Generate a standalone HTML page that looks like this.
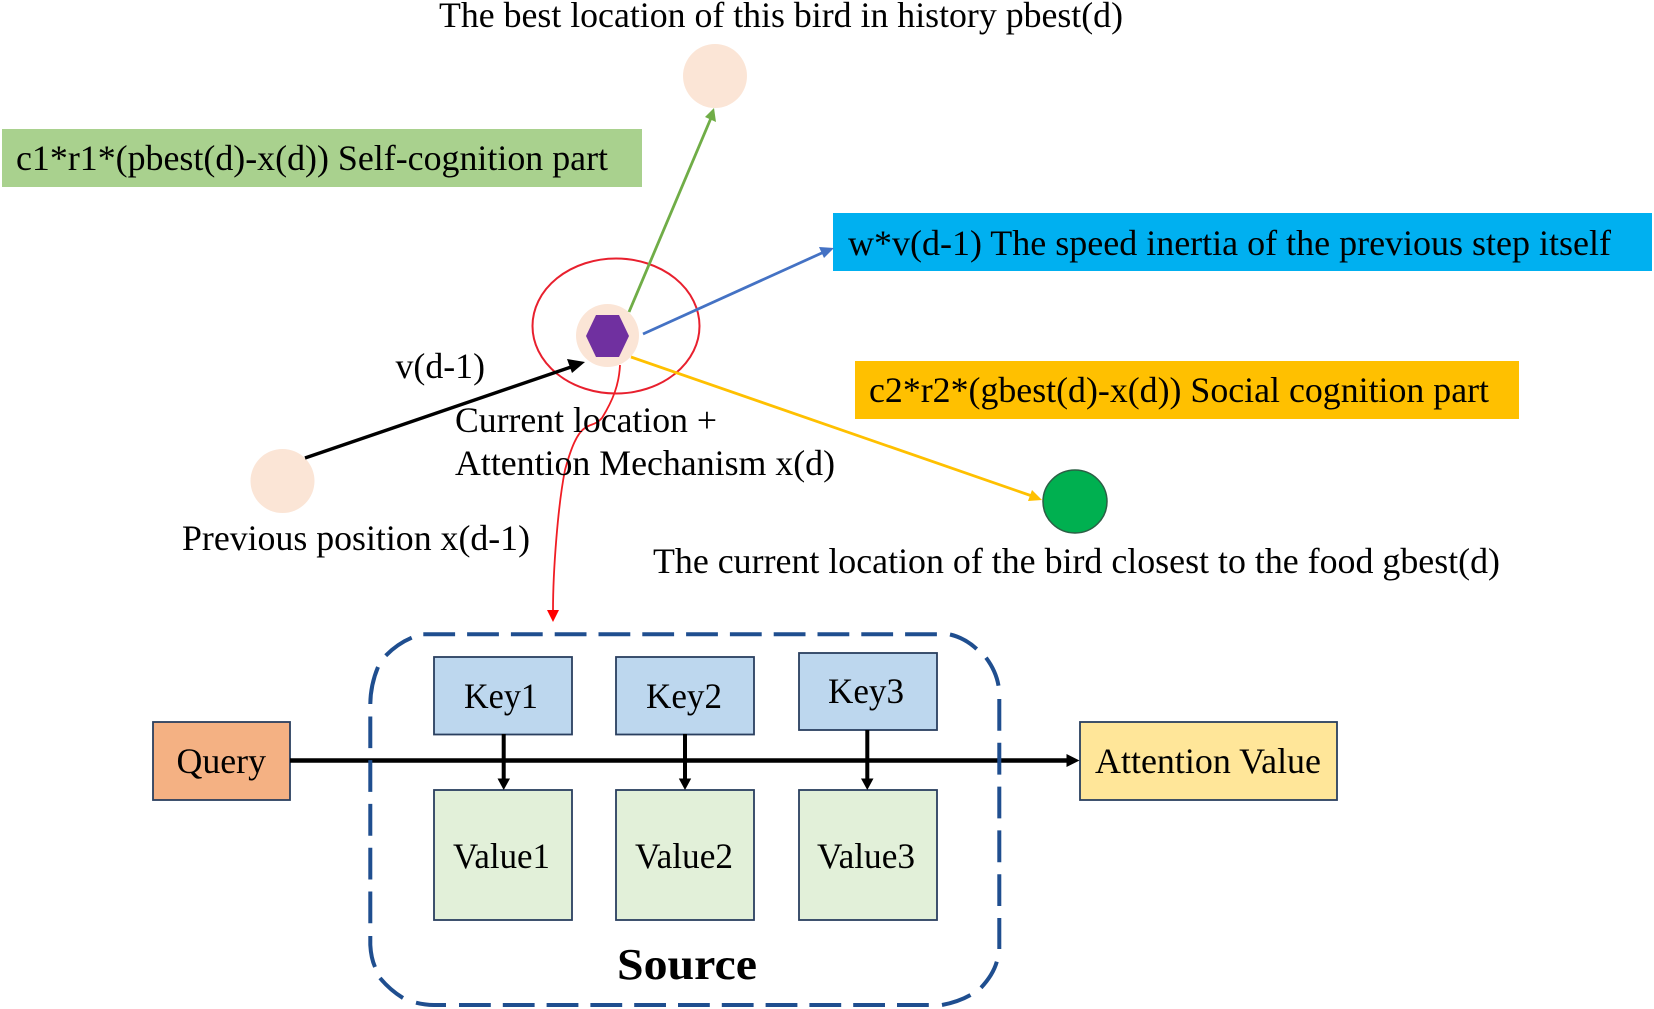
<!DOCTYPE html>
<html>
<head>
<meta charset="utf-8">
<style>
html,body{margin:0;padding:0;background:#fff;width:1654px;height:1009px;overflow:hidden}
svg{display:block;filter:blur(0.35px)}
text{font-family:"Liberation Serif",serif;font-size:36px;fill:#000}
</style>
</head>
<body>
<svg width="1654" height="1009" viewBox="0 0 1654 1009" xmlns="http://www.w3.org/2000/svg">
<rect width="1654" height="1009" fill="#fff"/>

<!-- colored bars -->
<rect x="2" y="129" width="640" height="58" fill="#a9d18e"/>
<rect x="833" y="213" width="819" height="58" fill="#00b0f0"/>
<rect x="855" y="361" width="664" height="58" fill="#ffc000"/>

<!-- nodes -->
<circle cx="715" cy="76" r="32" fill="#fbe5d6"/>
<circle cx="282.5" cy="481" r="32" fill="#fbe5d6"/>
<ellipse cx="1075" cy="501.5" rx="32" ry="31.5" fill="#00b050" stroke="#2c5f45" stroke-width="1.5"/>
<ellipse cx="616" cy="326" rx="83.5" ry="67.5" fill="none" stroke="#e8202e" stroke-width="2"/>
<circle cx="607.5" cy="335.5" r="31.5" fill="#fbe5d6"/>
<polygon points="586,336 596,315 619,315 629,336 619,357 596,357" fill="#7030a0"/>

<!-- upper connectors -->
<line x1="629" y1="312" x2="711" y2="118" stroke="#70ad47" stroke-width="2.8"/>
<polygon points="714,108 716,122 705,117" fill="#70ad47"/>
<line x1="643" y1="334" x2="824" y2="252" stroke="#4472c4" stroke-width="2.8"/>
<polygon points="834,248 824,258 819,247" fill="#4472c4"/>
<line x1="631" y1="357" x2="1032" y2="496" stroke="#ffc000" stroke-width="2.8"/>
<polygon points="1042,500 1028,501 1032,490" fill="#ffc000"/>
<line x1="305" y1="458" x2="574" y2="366" stroke="#000" stroke-width="3.4"/>
<polygon points="585,362 572,373 567,359" fill="#000"/>
<path d="M620 365 C619 385 613 400 602 418 C596 425 590 424 585 428 C577 433 571 448 565 470 C558 505 553 570 553 611" fill="none" stroke="#f01d24" stroke-width="1.8"/>
<polygon points="553,622 547,610 559,610" fill="#f00"/>

<!-- boxes -->
<g stroke="#2a3f5f" stroke-width="1.8">
<rect x="153" y="722" width="137" height="78" fill="#f4b183"/>
<rect x="434" y="657" width="138" height="77.5" fill="#bdd7ee"/>
<rect x="616" y="657" width="138" height="77.5" fill="#bdd7ee"/>
<rect x="799" y="653" width="138" height="77" fill="#bdd7ee"/>
<rect x="434" y="790" width="138" height="130" fill="#e2f0d9"/>
<rect x="616" y="790" width="138" height="130" fill="#e2f0d9"/>
<rect x="799" y="790" width="138" height="130" fill="#e2f0d9"/>
<rect x="1080" y="722" width="257" height="78" fill="#ffe699"/>
</g>

<!-- lower connectors -->
<line x1="290" y1="760.5" x2="1068" y2="760.5" stroke="#000" stroke-width="4.4"/>
<polygon points="1079.5,760.5 1066.5,754 1066.5,767" fill="#000"/>
<line x1="503.7" y1="734" x2="503.7" y2="780" stroke="#000" stroke-width="4"/>
<polygon points="503.7,790 497.5,778.5 510,778.5" fill="#000"/>
<line x1="685" y1="734" x2="685" y2="780" stroke="#000" stroke-width="4"/>
<polygon points="685,790 678.8,778.5 691.2,778.5" fill="#000"/>
<line x1="867.3" y1="730" x2="867.3" y2="780" stroke="#000" stroke-width="4"/>
<polygon points="867.3,790 861,778.5 873.5,778.5" fill="#000"/>

<!-- source container dashes -->
<g fill="none" stroke="#1f4e8f" stroke-width="4">
<path d="M423.3 634.3H939" stroke-dasharray="31.8 12"/>
<path d="M950 634.5Q965 638 976.7 649"/>
<path d="M986 657.7Q996 671 998.5 685.7"/>
<path d="M999.3 699V949" stroke-dasharray="31.8 12"/>
<path d="M996.8 961.7Q993 975 981 987.7"/>
<path d="M970.5 995Q958 1002 942 1005"/>
<path d="M459 1005H930" stroke-dasharray="31.8 12"/>
<path d="M416 1002.7Q425 1005 434 1005H446"/>
<path d="M403 998Q390 990 380 978"/>
<path d="M375 967Q371 958 370.3 945V936"/>
<path d="M370.3 923.3V716.5" stroke-dasharray="31.8 12"/>
<path d="M370.3 704Q370.5 685 378 667"/>
<path d="M385.7 655.7Q397 644 411.7 637.7"/>
</g>

<!-- labels -->
<g>
<text x="439" y="27" textLength="684" lengthAdjust="spacingAndGlyphs">The best location of this bird in history pbest(d)</text>
<text x="16" y="170" textLength="592" lengthAdjust="spacingAndGlyphs">c1*r1*(pbest(d)-x(d)) Self-cognition part</text>
<text x="848" y="255" textLength="763" lengthAdjust="spacingAndGlyphs">w*v(d-1) The speed inertia of the previous step itself</text>
<text x="869" y="402" textLength="620" lengthAdjust="spacingAndGlyphs">c2*r2*(gbest(d)-x(d)) Social cognition part</text>
<text x="395.5" y="378" textLength="89.5" lengthAdjust="spacingAndGlyphs">v(d-1)</text>
<text x="455" y="432" textLength="262" lengthAdjust="spacingAndGlyphs">Current location +</text>
<text x="455" y="475" textLength="380" lengthAdjust="spacingAndGlyphs">Attention Mechanism x(d)</text>
<text x="182" y="550" textLength="348" lengthAdjust="spacingAndGlyphs">Previous position x(d-1)</text>
<text x="653" y="573" textLength="847" lengthAdjust="spacingAndGlyphs">The current location of the bird closest to the food gbest(d)</text>
<text x="464" y="708" textLength="74" lengthAdjust="spacingAndGlyphs">Key1</text>
<text x="646" y="708" textLength="76" lengthAdjust="spacingAndGlyphs">Key2</text>
<text x="828" y="703" textLength="76" lengthAdjust="spacingAndGlyphs">Key3</text>
<text x="453" y="868" textLength="97" lengthAdjust="spacingAndGlyphs">Value1</text>
<text x="635" y="868" textLength="98" lengthAdjust="spacingAndGlyphs">Value2</text>
<text x="817" y="868" textLength="98" lengthAdjust="spacingAndGlyphs">Value3</text>
<text x="176.5" y="773" textLength="89.5" lengthAdjust="spacingAndGlyphs">Query</text>
<text x="1095" y="773" textLength="226" lengthAdjust="spacingAndGlyphs">Attention Value</text>
<text x="617" y="979" textLength="140" lengthAdjust="spacingAndGlyphs" style="font-weight:bold;font-size:44px">Source</text>
</g>
</svg>
</body>
</html>
